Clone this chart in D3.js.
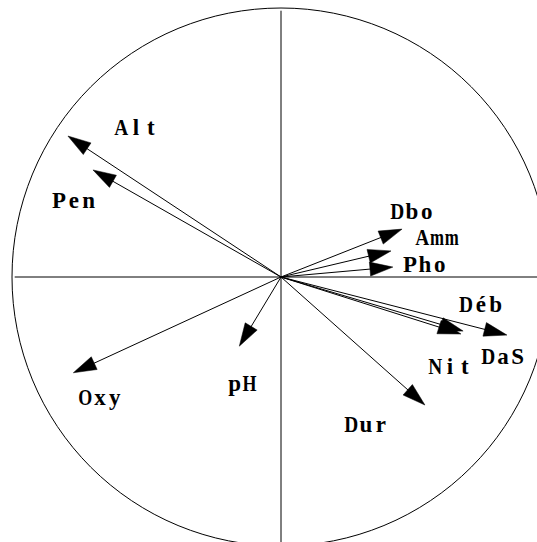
<!DOCTYPE html>
<html>
<head>
<meta charset="utf-8">
<script src="https://cdn.jsdelivr.net/npm/d3@7"></script>
<style>
  html, body { margin: 0; padding: 0; background: #fff; }
  svg { display: block; }
</style>
</head>
<body>
<svg id="chart" width="537" height="542"></svg>
<script>
// Correlation circle: variables projected on the first two axes
const variables = ["Dbo", "Amm", "Pho", "Déb", "Nit", "DaS", "Dur", "pH", "Oxy", "Pen", "Alt"];
const axis1 = [0.450, 0.409, 0.416, 0.677, 0.669, 0.840, 0.535, -0.155, -0.772, -0.699, -0.792];
const axis2 = [0.178, 0.097, 0.037, -0.201, -0.212, -0.216, -0.476, -0.257, -0.356, 0.398, 0.524];
// label anchor points, in the same correlation units
const labelX = [0.487, 0.580, 0.535, 0.743, 0.628, 0.825, 0.316, -0.145, -0.673, -0.770, -0.539];
const labelY = [0.245, 0.149, 0.048, -0.100, -0.331, -0.295, -0.546, -0.394, -0.446, 0.286, 0.558];

const cx = 281, cy = 277, R = 269;
const x = d3.scaleLinear().domain([-1, 1]).range([cx - R, cx + R]);
const y = d3.scaleLinear().domain([-1, 1]).range([cy + R, cy - R]);

const svg = d3.select("#chart");

// unit circle
svg.append("circle")
  .attr("cx", x(0)).attr("cy", y(0)).attr("r", x(1) - x(0))
  .attr("fill", "none").attr("stroke", "#000").attr("stroke-width", 1);

// axes through the origin
svg.append("line")
  .attr("x1", x(-0.99)).attr("x2", x(0.99)).attr("y1", y(0)).attr("y2", y(0))
  .attr("stroke", "#000").attr("stroke-width", 1);
svg.append("line")
  .attr("x1", x(0)).attr("x2", x(0)).attr("y1", y(0.99)).attr("y2", y(-0.99))
  .attr("stroke", "#000").attr("stroke-width", 1);

// arrows
const headLen = 23, headHalf = 7;
const g = svg.append("g");
variables.forEach((v, i) => {
  const x0 = x(0), y0 = y(0), x1 = x(axis1[i]), y1 = y(axis2[i]);
  const dx = x1 - x0, dy = y1 - y0, d = Math.hypot(dx, dy);
  const ux = dx / d, uy = dy / d;
  g.append("line")
    .attr("x1", x0).attr("y1", y0).attr("x2", x1 - ux * headLen * 0.8).attr("y2", y1 - uy * headLen * 0.8)
    .attr("stroke", "#000").attr("stroke-width", 1);
  const bx = x1 - ux * headLen, by = y1 - uy * headLen;
  const pts = [[x1, y1], [bx - uy * headHalf, by + ux * headHalf], [bx + uy * headHalf, by - ux * headHalf]];
  g.append("path")
    .attr("d", "M" + pts.map(p => p.join(",")).join("L") + "Z")
    .attr("fill", "#000").attr("stroke", "#000").attr("stroke-width", 0.5);
});

// variable labels, each character set in a fixed-width cell
const cell = 14.8, fit = cell - 0.8;
const labels = svg.append("g")
  .attr("font-family", "'Liberation Serif', 'DejaVu Serif', serif")
  .attr("font-weight", "bold")
  .attr("font-size", 23)
  .attr("fill", "#000");
variables.forEach((v, i) => {
  const chars = Array.from(v);
  const left = x(labelX[i]) - chars.length * cell / 2;
  const t = labels.append("text")
    .attr("y", y(labelY[i]))
    .attr("dy", "0.35em")
    .attr("text-anchor", "middle");
  chars.forEach((c, k) => {
    const s = t.append("tspan")
      .attr("x", left + (k + 0.5) * cell)
      .text(c);
    const w = s.node().getComputedTextLength();
    if (w > fit) {
      s.attr("textLength", fit).attr("lengthAdjust", "spacingAndGlyphs");
    }
  });
});
</script>
</body>
</html>
